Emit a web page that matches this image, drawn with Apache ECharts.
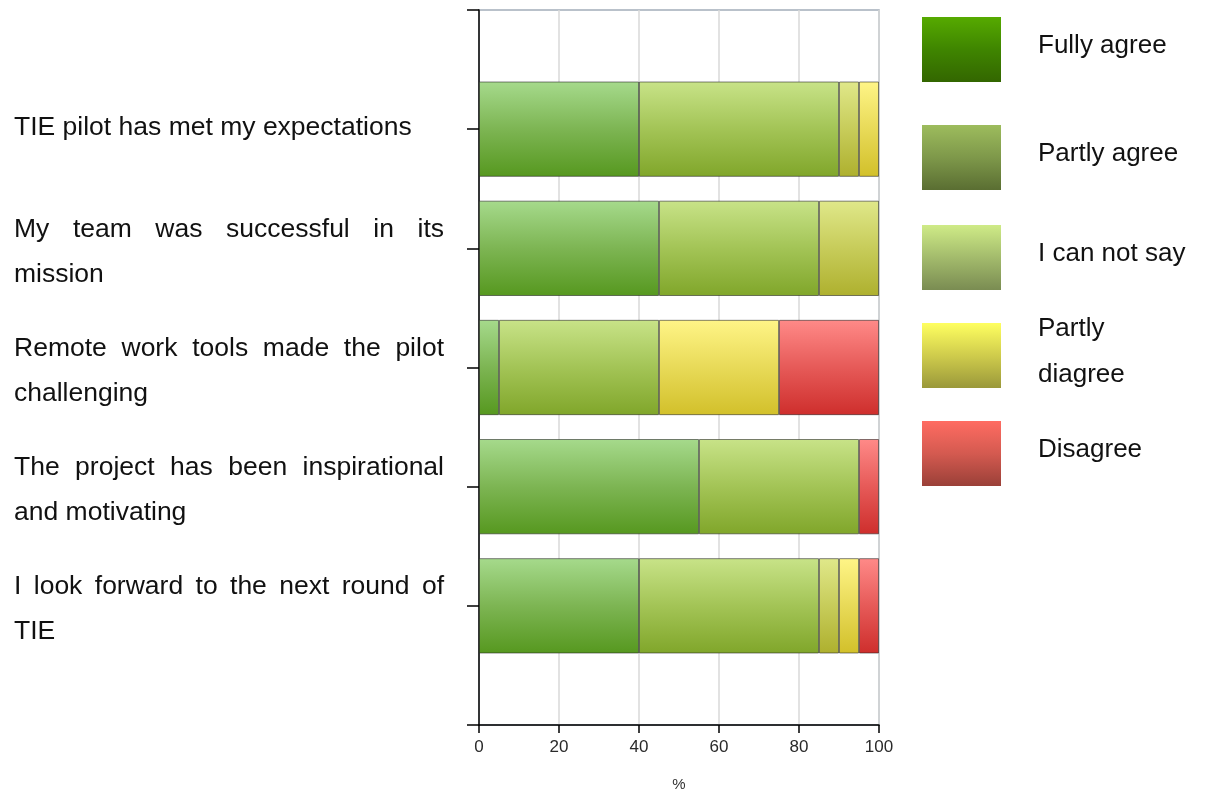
<!DOCTYPE html>
<html><head><meta charset="utf-8">
<script src="https://cdn.jsdelivr.net/npm/echarts@6/dist/echarts.min.js"></script>
<style>html,body{margin:0;padding:0;background:#fff}#c{width:1207px;height:793px}</style>
</head><body><div id="c"></div>
<script>
// ---- data ----
const questions = [
  'TIE pilot has met my expectations',
  'My team was successful in its\nmission',
  'Remote work tools made the pilot\nchallenging',
  'The project has been inspirational\nand motivating',
  'I look forward to the next round of\nTIE'
];
const seriesNames = ['Fully agree', 'Partly agree', 'I can not say', 'Partly diagree', 'Disagree'];
const legendLabels = ['Fully agree', 'Partly agree', 'I can not say', 'Partly\ndiagree', 'Disagree'];
const fullyAgree     = [40, 45,  5, 55, 40];
const partlyAgree    = [50, 40, 40, 40, 45];
const cannotSay      = [ 5, 15,  0,  0,  5];
const partlyDisagree = [ 5,  0, 30,  0,  5];
const disagree       = [ 0,  0, 25,  5,  5];
const xTicks = [0, 20, 40, 60, 80, 100];
const axisName = '%';

// ---- styles ----
const FONT_FAMILY = '"Liberation Sans", Arial, sans-serif';
const LABEL_FS = 26.5;
const LABEL_W = 430;
function grad(top, bottom, mid, s0, s1) {
  s0 = s0 || 0; s1 = s1 === undefined ? 1 : s1;
  const f = t => s0 + t * (s1 - s0);
  const stops = [{offset: f(0), color: top}];
  if (mid) stops.push({offset: f(0.5), color: mid});
  stops.push({offset: f(1), color: bottom});
  return {type: 'linear', x: 0, y: 0, x2: 0, y2: 1, colorStops: stops};
}
const barColors = [
  grad('#a6da8c', '#56981f', '#7db553'),
  grad('#c8e388', '#80a62a', '#a3c456'),
  grad('#e0e88a', '#aeb02e', '#c7cc5a'),
  grad('#fff587', '#d2c02a', '#e8da58'),
  grad('#ff8a88', '#ce2e2c', '#e65a58')
];
// legend swatch: 79x65 visible rect, drawn with an 8px transparent top pad so the
// label sits slightly above the swatch centre as in the reference
const SW_W = 79, SW_H = 65, SW_PAD = 8, LEG_LH = 46;
const SW_TOT = SW_H + SW_PAD;
const s0 = SW_PAD / SW_TOT;
const legendColors = [
  grad('#56aa00', '#336600', '#3f8500', s0, 1),
  grad('#9dbc5d', '#5a6e32', '#7e984a', s0, 1),
  grad('#cfeb87', '#7a8c52', '#a3bb6c', s0, 1),
  grad('#ffff60', '#9a983a', '#cfcc4c', s0, 1),
  grad('#ff6c62', '#9a4038', '#d45a50', s0, 1)
];
const legendTops = [17, 125, 225, 323, 421];
const swatchPath = 'path://M0,0L1,0M0,' + SW_PAD + 'L' + SW_W + ',' + SW_PAD + 'L' + SW_W + ',' + SW_TOT + 'L0,' + SW_TOT + 'Z';

// ---- justified labels ----
const ctx = document.createElement('canvas').getContext('2d');
ctx.font = LABEL_FS + 'px ' + FONT_FAMILY;
const rich = {};
const formatted = {};
questions.forEach((q, qi) => {
  const lines = q.split('\n');
  formatted[q] = lines.map((line, li) => {
    const words = line.split(' ');
    if (li === lines.length - 1 || words.length < 2) return line;
    const total = words.reduce((s, w) => s + ctx.measureText(w).width, 0);
    const gap = (LABEL_W - total) / (words.length - 1);
    const key = 'g' + qi + '_' + li;
    rich[key] = {width: gap, fontSize: LABEL_FS, lineHeight: 45, fontFamily: FONT_FAMILY};
    return words.join('{' + key + '|\u00a0}');
  }).join('\n');
});

const catData = [{value: ''}]
  .concat(questions.map(q => ({
    value: q,
    textStyle: {align: 'left', padding: q.indexOf('\n') >= 0 ? [7, 0, 0, 0] : [0, 0, 2, 0]}
  })))
  .concat([{value: ''}]);
const pad = arr => [null].concat(arr.map(v => v === 0 ? null : v), [null]);
const values = [fullyAgree, partlyAgree, cannotSay, partlyDisagree, disagree];

const chart = echarts.init(document.getElementById('c'));
chart.setOption({
  animation: false,
  textStyle: {fontFamily: FONT_FAMILY},
  grid: {left: 479, right: 328, top: 10, bottom: 68, outerBoundsMode: 'none', containLabel: false,
    show: true, borderColor: '#a3adb9', borderWidth: 1.5, backgroundColor: 'transparent'},
  legend: seriesNames.map((n, i) => {
    const nLines = legendLabels[i].split('\n').length;
    const boxH = nLines * LEG_LH;
    const off = boxH > SW_TOT ? (boxH - SW_TOT) / 2 : 0;
    return {
      left: 922, top: legendTops[i] - SW_PAD - off, orient: 'vertical', icon: swatchPath, padding: 0,
      itemWidth: SW_W, itemHeight: SW_TOT, selectedMode: false,
      textStyle: {fontSize: 26, color: '#111', lineHeight: LEG_LH, padding: [0, 0, 0, 32], fontFamily: FONT_FAMILY},
      data: [{name: n, itemStyle: {color: legendColors[i], borderWidth: 0}}],
      formatter: () => legendLabels[i]
    };
  }),
  xAxis: {
    type: 'value', min: 0, max: 100, interval: 20,
    name: axisName, nameLocation: 'middle', nameGap: 52,
    nameTextStyle: {fontSize: 15, color: '#333'},
    axisLine: {show: true, lineStyle: {color: '#000', width: 1.5}},
    axisTick: {show: true, length: 8, lineStyle: {color: '#000', width: 1.5}},
    axisLabel: {fontSize: 17, color: '#2a2a2a', margin: 14,
      formatter: v => xTicks.includes(v) ? String(v) : ''},
    splitLine: {show: true, lineStyle: {color: '#d9d9d9', width: 1.5}}
  },
  yAxis: {
    type: 'category', data: catData, inverse: true, boundaryGap: false,
    axisLine: {show: true, lineStyle: {color: '#000', width: 1.5}},
    axisTick: {show: true, length: 12, interval: 0, lineStyle: {color: '#000', width: 1.5}},
    axisLabel: {
      interval: 0, align: 'left', margin: 465, fontSize: LABEL_FS, lineHeight: 45, color: '#111',
      fontFamily: FONT_FAMILY, rich: rich,
      formatter: v => formatted[v] || ''
    },
    splitLine: {show: false}
  },
  series: seriesNames.map((n, i) => ({
    name: n, type: 'bar', stack: 'all', barWidth: '80%',
    data: pad(values[i]),
    itemStyle: {color: barColors[i], borderColor: 'rgba(30,30,30,0.55)', borderWidth: 1}
  }))
});
</script>
</body></html>
